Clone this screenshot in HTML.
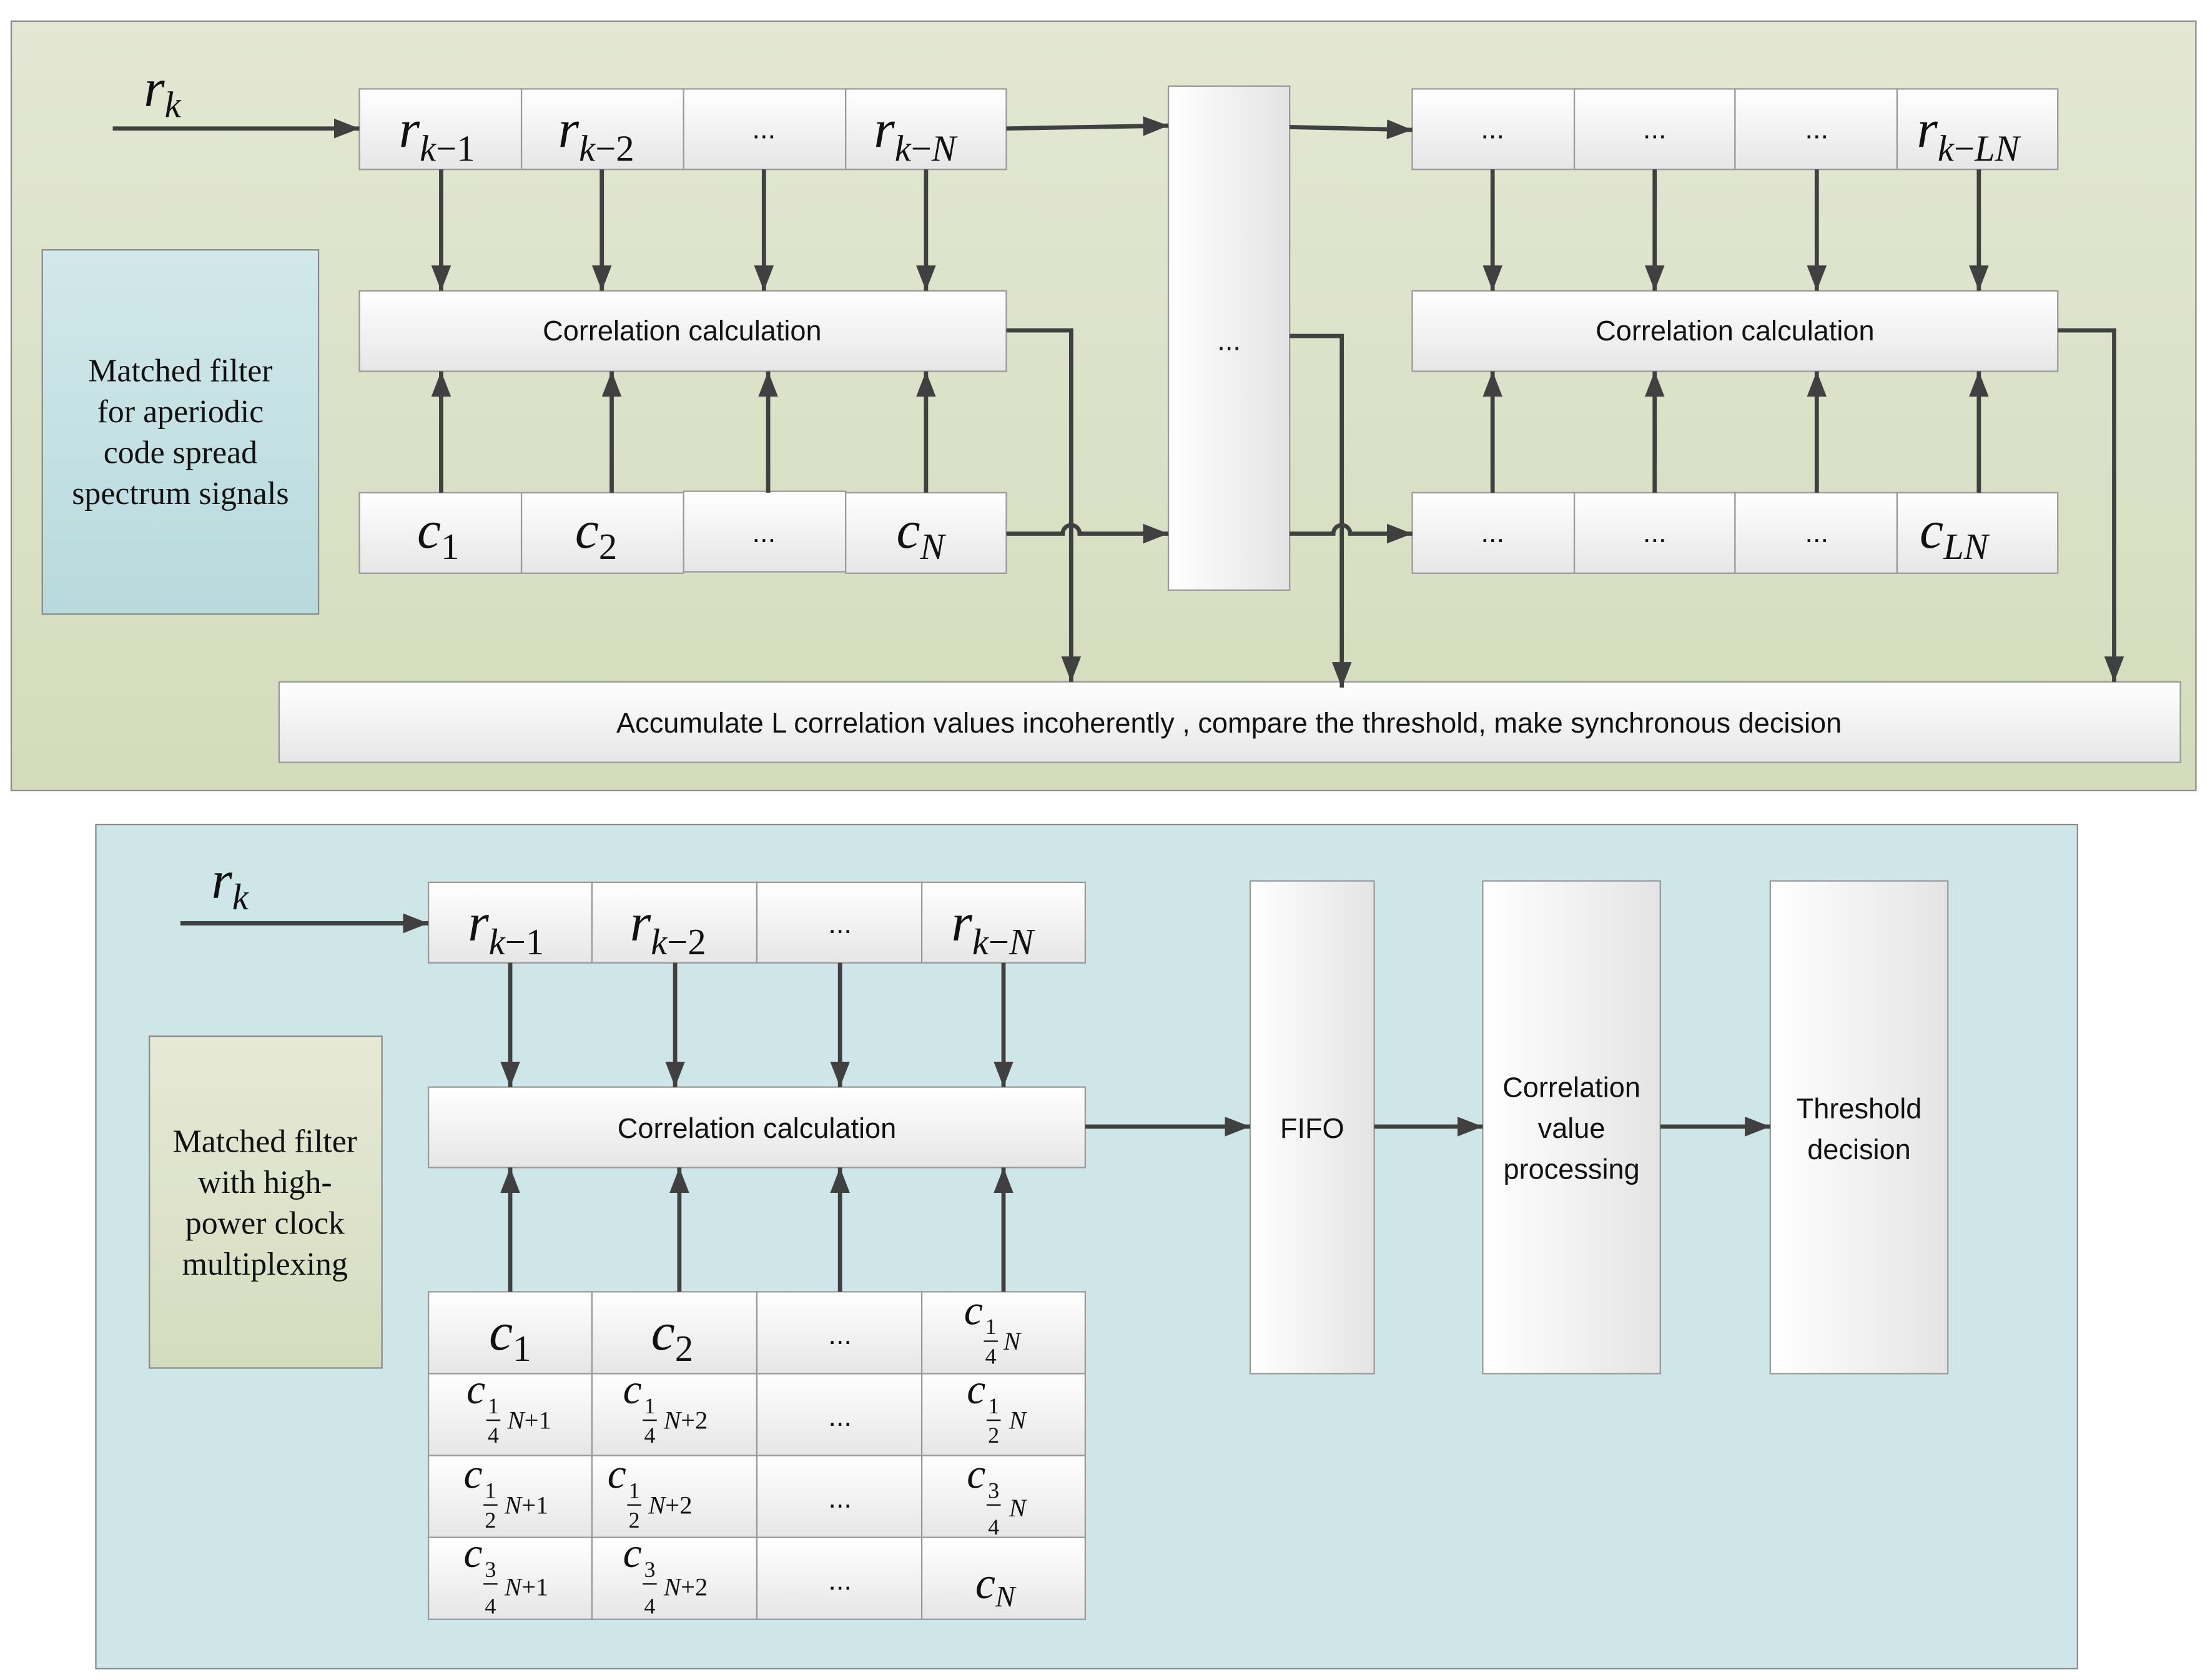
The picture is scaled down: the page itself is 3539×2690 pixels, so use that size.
<!DOCTYPE html>
<html><head><meta charset="utf-8"><style>
html,body{margin:0;padding:0;background:#fff;}
svg{display:block;}
.sans{font-family:"Liberation Sans",sans-serif;}
.ser{font-family:"Liberation Serif",serif;}
.m{font-family:"Liberation Serif",serif;font-style:italic;}
</style></head><body>
<svg width="3539" height="2690" viewBox="0 0 1568 1190" preserveAspectRatio="none" xmlns="http://www.w3.org/2000/svg">
<defs>
<linearGradient id="g" x1="0" y1="0" x2="0" y2="1"><stop offset="0" stop-color="#ffffff"/><stop offset="1" stop-color="#e6e6e6"/></linearGradient>
<linearGradient id="gh" x1="0" y1="0" x2="1" y2="0"><stop offset="0" stop-color="#ffffff"/><stop offset="1" stop-color="#e4e4e4"/></linearGradient>
<linearGradient id="top" x1="0" y1="0" x2="0" y2="1"><stop offset="0" stop-color="#e3e7d3"/><stop offset="1" stop-color="#d4dcbc"/></linearGradient>
<linearGradient id="blu" x1="0" y1="0" x2="0" y2="1"><stop offset="0" stop-color="#d2e8ea"/><stop offset="1" stop-color="#b7dadd"/></linearGradient>
<linearGradient id="olv" x1="0" y1="0" x2="0" y2="1"><stop offset="0" stop-color="#e6e9d6"/><stop offset="1" stop-color="#d5dcbe"/></linearGradient>
<marker id="a" markerWidth="18" markerHeight="16" refX="18" refY="8" orient="auto" markerUnits="userSpaceOnUse"><path d="M0,1 L18,8 L0,15 z" fill="#404040"/></marker>
</defs>
<!-- panels -->
<rect x="8" y="15" width="1550" height="545" fill="url(#top)" stroke="#8a8a8a" stroke-width="1"/>
<rect x="68" y="584" width="1406" height="598" fill="#cfe6e8" stroke="#8a8a8a" stroke-width="1"/>

<g stroke="#9a9a9a" stroke-width="1" fill="url(#g)">
<rect x="255" y="63" width="115" height="57"/><rect x="370" y="63" width="115" height="57"/><rect x="485" y="63" width="115" height="57"/><rect x="600" y="63" width="114" height="57"/>
<rect x="255" y="206" width="459" height="57"/>
<rect x="255" y="349" width="115" height="57"/><rect x="370" y="349" width="115" height="57"/><rect x="485" y="348" width="115" height="57"/><rect x="600" y="349" width="114" height="57"/>
<rect x="829" y="61" width="86" height="357" fill="url(#gh)"/>
<rect x="1002" y="63" width="115" height="57"/><rect x="1117" y="63" width="114" height="57"/><rect x="1231" y="63" width="115" height="57"/><rect x="1346" y="63" width="114" height="57"/>
<rect x="1002" y="206" width="458" height="57"/>
<rect x="1002" y="349" width="115" height="57"/><rect x="1117" y="349" width="114" height="57"/><rect x="1231" y="349" width="115" height="57"/><rect x="1346" y="349" width="114" height="57"/>
<rect x="198" y="483" width="1349" height="57"/>
<rect x="304" y="625" width="116" height="57"/><rect x="420" y="625" width="117" height="57"/><rect x="537" y="625" width="117" height="57"/><rect x="654" y="625" width="116" height="57"/>
<rect x="304" y="770" width="466" height="57"/>
<rect x="304" y="915" width="116" height="58"/><rect x="420" y="915" width="117" height="58"/><rect x="537" y="915" width="117" height="58"/><rect x="654" y="915" width="116" height="58"/>
<rect x="304" y="973" width="116" height="58"/><rect x="420" y="973" width="117" height="58"/><rect x="537" y="973" width="117" height="58"/><rect x="654" y="973" width="116" height="58"/>
<rect x="304" y="1031" width="116" height="58"/><rect x="420" y="1031" width="117" height="58"/><rect x="537" y="1031" width="117" height="58"/><rect x="654" y="1031" width="116" height="58"/>
<rect x="304" y="1089" width="116" height="58"/><rect x="420" y="1089" width="117" height="58"/><rect x="537" y="1089" width="117" height="58"/><rect x="654" y="1089" width="116" height="58"/>
<rect x="887" y="624" width="88" height="349" fill="url(#gh)"/>
<rect x="1052" y="624" width="126" height="349" fill="url(#gh)"/>
<rect x="1256" y="624" width="126" height="349" fill="url(#gh)"/>
</g>
<rect x="30" y="177" width="196" height="258" fill="url(#blu)" stroke="#8a8a8a" stroke-width="1"/>
<rect x="106" y="734" width="165" height="235" fill="url(#olv)" stroke="#8a8a8a" stroke-width="1"/>

<g stroke="#404040" stroke-width="3" fill="none" marker-end="url(#a)">
<path d="M80,91 H255"/>
<path d="M313,120 V206"/><path d="M427,120 V206"/><path d="M542,120 V206"/><path d="M657,120 V206"/>
<path d="M313,349 V263"/><path d="M434,349 V263"/><path d="M545,349 V263"/><path d="M657,349 V263"/>
<path d="M714,91 L829,89"/><path d="M915,90 L1002,92"/>
<path d="M714,378 H754 a6,6 0 0 1 12,0 H829"/>
<path d="M915,378 H946 a6,6 0 0 1 12,0 H1002"/>
<path d="M714,234 H760 V483"/>
<path d="M915,238 H952 V487"/>
<path d="M1460,234 H1500 V483"/>
<path d="M1059,120 V206"/><path d="M1174,120 V206"/><path d="M1289,120 V206"/><path d="M1404,120 V206"/>
<path d="M1059,349 V263"/><path d="M1174,349 V263"/><path d="M1289,349 V263"/><path d="M1404,349 V263"/>
<path d="M128,654 H304"/>
<path d="M362,682 V770"/><path d="M479,682 V770"/><path d="M596,682 V770"/><path d="M712,682 V770"/>
<path d="M362,915 V827"/><path d="M482,915 V827"/><path d="M596,915 V827"/><path d="M712,915 V827"/>
<path d="M770,798 H887"/><path d="M975,798 H1052"/><path d="M1178,798 H1256"/>
</g>

<g class="m" fill="#111" font-size="38">
<text x="102" y="75">r<tspan font-size="26" dy="8">k</tspan></text>
<text x="283" y="104">r<tspan font-size="26" dy="10">k</tspan><tspan font-size="26" font-style="normal">−1</tspan></text>
<text x="396" y="104">r<tspan font-size="26" dy="10">k</tspan><tspan font-size="26" font-style="normal">−2</tspan></text>
<text x="620" y="104">r<tspan font-size="26" dy="10">k</tspan><tspan font-size="26" font-style="normal">−</tspan><tspan font-size="26">N</tspan></text>
<text x="1360" y="104">r<tspan font-size="26" dy="10">k</tspan><tspan font-size="26" font-style="normal">−</tspan><tspan font-size="26">LN</tspan></text>
<text x="296" y="388">c<tspan font-size="26" dy="8" font-style="normal">1</tspan></text>
<text x="408" y="388">c<tspan font-size="26" dy="8" font-style="normal">2</tspan></text>
<text x="636" y="388">c<tspan font-size="26" dy="8">N</tspan></text>
<text x="1362" y="388">c<tspan font-size="26" dy="8">LN</tspan></text>
<text x="150" y="636">r<tspan font-size="26" dy="8">k</tspan></text>
<text x="332" y="666">r<tspan font-size="26" dy="10">k</tspan><tspan font-size="26" font-style="normal">−1</tspan></text>
<text x="447" y="666">r<tspan font-size="26" dy="10">k</tspan><tspan font-size="26" font-style="normal">−2</tspan></text>
<text x="675" y="666">r<tspan font-size="26" dy="10">k</tspan><tspan font-size="26" font-style="normal">−</tspan><tspan font-size="26">N</tspan></text>
<text x="347" y="956">c<tspan font-size="26" dy="8" font-style="normal">1</tspan></text>
<text x="462" y="956">c<tspan font-size="26" dy="8" font-style="normal">2</tspan></text>
<text x="692" y="1132" font-size="32">c<tspan font-size="21" dy="6">N</tspan></text>
</g>
<g class="m" fill="#111" font-size="30">
<text x="684" y="938">c</text>
<text x="331" y="994">c</text><text x="442" y="994">c</text><text x="686" y="994">c</text>
<text x="329" y="1054">c</text><text x="431" y="1054">c</text><text x="686" y="1054">c</text>
<text x="329" y="1110">c</text><text x="442" y="1110">c</text>
</g>
<g class="ser" fill="#111" font-size="16">
<text x="699" y="945">1</text><line x1="698" y1="950" x2="708" y2="950" stroke="#111"/><text x="699" y="966">4</text><text x="712" y="956" class="m" font-size="18">N</text>
<text x="346" y="1001">1</text><line x1="345" y1="1006" x2="355" y2="1006" stroke="#111"/><text x="346" y="1022">4</text><text x="360" y="1012" font-size="18"><tspan font-style="italic">N</tspan>+1</text>
<text x="457" y="1001">1</text><line x1="456" y1="1006" x2="466" y2="1006" stroke="#111"/><text x="457" y="1022">4</text><text x="471" y="1012" font-size="18"><tspan font-style="italic">N</tspan>+2</text>
<text x="701" y="1001">1</text><line x1="700" y1="1006" x2="710" y2="1006" stroke="#111"/><text x="701" y="1022">2</text><text x="716" y="1012" class="m" font-size="18">N</text>
<text x="344" y="1061">1</text><line x1="343" y1="1066" x2="353" y2="1066" stroke="#111"/><text x="344" y="1082">2</text><text x="358" y="1072" font-size="18"><tspan font-style="italic">N</tspan>+1</text>
<text x="446" y="1061">1</text><line x1="445" y1="1066" x2="455" y2="1066" stroke="#111"/><text x="446" y="1082">2</text><text x="460" y="1072" font-size="18"><tspan font-style="italic">N</tspan>+2</text>
<text x="701" y="1061">3</text><line x1="700" y1="1066" x2="710" y2="1066" stroke="#111"/><text x="701" y="1087">4</text><text x="716" y="1074" class="m" font-size="18">N</text>
<text x="344" y="1117">3</text><line x1="343" y1="1122" x2="353" y2="1122" stroke="#111"/><text x="344" y="1143">4</text><text x="358" y="1130" font-size="18"><tspan font-style="italic">N</tspan>+1</text>
<text x="457" y="1117">3</text><line x1="456" y1="1122" x2="466" y2="1122" stroke="#111"/><text x="457" y="1143">4</text><text x="471" y="1130" font-size="18"><tspan font-style="italic">N</tspan>+2</text>
</g>

<g class="sans" fill="#111" font-size="20" text-anchor="middle">
<text x="542" y="98">...</text>
<text x="484" y="241">Correlation calculation</text>
<text x="542" y="384">...</text>
<text x="872" y="248">...</text>
<text x="1059" y="98">...</text><text x="1174" y="98">...</text><text x="1289" y="98">...</text>
<text x="1231" y="241">Correlation calculation</text>
<text x="1059" y="384">...</text><text x="1174" y="384">...</text><text x="1289" y="384">...</text>
<text x="872" y="519">Accumulate L correlation values incoherently ,  compare the threshold,  make synchronous decision</text>
<text x="596" y="661">...</text>
<text x="537" y="806">Correlation calculation</text>
<text x="596" y="952">...</text><text x="596" y="1010">...</text><text x="596" y="1068">...</text><text x="596" y="1126">...</text>
<text x="931" y="806">FIFO</text>
<text x="1115" y="777">Correlation</text><text x="1115" y="806">value</text><text x="1115" y="835">processing</text>
<text x="1319" y="792">Threshold</text><text x="1319" y="821">decision</text>
</g>
<g class="ser" fill="#111" font-size="23" text-anchor="middle">
<text x="128" y="270">Matched filter</text>
<text x="128" y="299">for aperiodic</text>
<text x="128" y="328">code spread</text>
<text x="128" y="357">spectrum signals</text>
<text x="188" y="816">Matched filter</text>
<text x="188" y="845">with high-</text>
<text x="188" y="874">power clock</text>
<text x="188" y="903">multiplexing</text>
</g>
</svg>
</body></html>
